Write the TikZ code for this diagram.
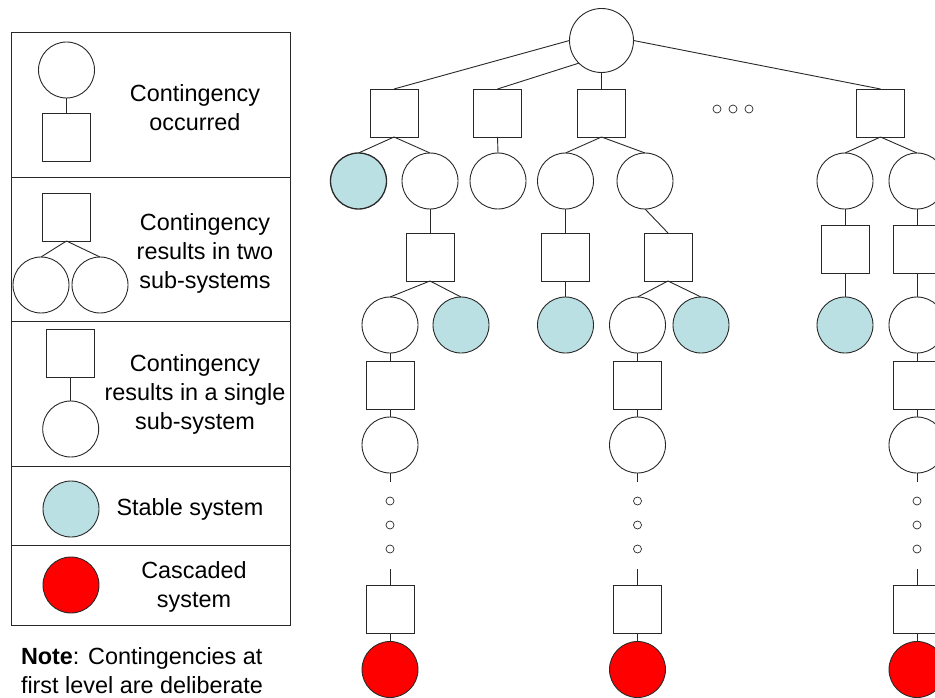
\documentclass[tikz,border=0pt]{standalone}
\usepackage{fontspec}
\setmainfont{Liberation Sans}
\definecolor{stableblue}{RGB}{187,224,227}
\definecolor{inkline}{RGB}{40,40,40}
\begin{document}
\begin{tikzpicture}[x=1pt,y=-1pt,
  every node/.style={inner sep=0pt, outer sep=0pt},
  sys/.style={circle, draw=inkline, line width=0.9pt, fill=white, minimum size=56pt},
  stable/.style={sys, fill=stableblue},
  casc/.style={sys, fill=red},
  rootsys/.style={sys, minimum size=64pt},
  cont/.style={rectangle, draw=inkline, line width=0.9pt, fill=white, minimum size=48pt},
  tinydot/.style={circle, draw=inkline, line width=0.7pt, minimum size=8pt},
  lbl/.style={font=\fontsize{23.4}{29}\selectfont, align=center},
  link/.style={draw=inkline, line width=0.9pt},
  frame/.style={draw=inkline, line width=0.9pt}]
\clip (0,0) rectangle (935,698);
\fill[white] (0,0) rectangle (935,698);

% ---------- legend ----------
\draw[frame] (11,32) rectangle (290,625);
\draw[frame] (11,177) -- (290,177);
\draw[frame] (11,321) -- (290,321);
\draw[frame] (11,466) -- (290,466);
\draw[frame] (11,545) -- (290,545);

% contingency occurred
\node[sys]  (lc1) at (66.5,70) {};
\node[cont] (ls1) at (66.5,137) {};
\draw[link] (lc1.south) -- (ls1.north);
\node[lbl] (lt1) at (195,108) {Contingency\\occurred};

% split into two sub-systems
\node[cont] (ls2) at (66.5,217) {};
\node[sys]  (lc2a) at (41,285) {};
\node[sys]  (lc2b) at (100,285) {};
\draw[link] (ls2.south) -- (lc2a.north);
\draw[link] (ls2.south) -- (lc2b.north);
\node[lbl] (lt2) at (205,253) {Contingency\\results in two\\sub-systems};

% single sub-system
\node[cont] (ls3) at (70.7,353) {};
\node[sys]  (lc3) at (70.7,429) {};
\draw[link] (ls3.south) -- (lc3.north);
\node[lbl] (lt3) at (195,394) {Contingency\\results in a single\\sub-system};

% stable / cascaded
\node[stable] (lc4) at (71,509) {};
\node[lbl] (lt4) at (190,509) {Stable system};
\node[casc] (lc5) at (71,585) {};
\node[lbl] (lt5) at (194,587) {Cascaded\\system};

\node[lbl, align=left, anchor=west] (note) at (21,671) {\textbf{Note}: Contingencies at\\first level are deliberate};

% ---------- tree ----------
\node[rootsys] (root) at (601.5,40.5) {};
\node[cont] (A) at (394,113) {};
\node[cont] (B) at (497.5,113) {};
\node[cont] (C) at (601.5,113) {};
\node[cont] (D) at (880.5,113) {};
\draw[link] (root.west) -- (A.north);
\draw[link] (root.south west) -- (B.north);
\draw[link] (root.south) -- (C.north);
\draw[link] (root.east) -- (D.north);

\node[tinydot] (e1) at (717,109) {};
\node[tinydot] (e2) at (733,109) {};
\node[tinydot] (e3) at (749,109) {};

% second level
\node[stable, line width=1.3pt] (A1) at (358.5,181) {};
\node[sys] (A2) at (430,181) {};
\node[sys] (B1) at (498,181) {};
\node[sys] (C1) at (565.5,181) {};
\node[sys] (C2) at (645,181) {};
\node[sys] (D1) at (845,181) {};
\node[sys] (D2) at (917,181) {};
\draw[link] (A.south) -- (A1.north);
\draw[link] (A.south) -- (A2.north);
\draw[link] (B.south) -- (B1.north);
\draw[link] (C.south) -- (C1.north);
\draw[link] (C.south) -- (C2.north);
\draw[link] (D.south) -- (D1.north);
\draw[link] (D.south) -- (D2.north);

% third level
\node[cont] (A2s) at (430,257) {};
\node[cont] (C1s) at (565.5,257) {};
\node[cont] (C2s) at (668,257) {};
\node[cont] (D1s) at (845,249) {};
\node[cont] (D2s) at (917,249) {};
\draw[link] (A2.south) -- (A2s.north);
\draw[link] (C1.south) -- (C1s.north);
\draw[link] (C2.south) -- (C2s.north);
\draw[link] (D1.south) -- (D1s.north);
\draw[link] (D2.south) -- (D2s.north);

% fourth level
\node[sys] (A2a) at (390,325) {};
\node[stable] (A2b) at (461,325) {};
\node[stable] (C1a) at (565.5,325) {};
\node[sys] (C2a) at (637.5,325) {};
\node[stable] (C2b) at (701,325) {};
\node[stable] (D1a) at (845,325) {};
\node[sys] (D2a) at (917,325) {};
\draw[link] (A2s.south) -- (A2a.north);
\draw[link] (A2s.south) -- (A2b.north);
\draw[link] (C1s.south) -- (C1a.north);
\draw[link] (C2s.south) -- (C2a.north);
\draw[link] (C2s.south) -- (C2b.north);
\draw[link] (D1s.south) -- (D1a.north);
\draw[link] (D2s.south) -- (D2a.north);

% cascading chains down to the failed system
\foreach \x/\n/\top in {390/p/A2a, 637.5/q/C2a, 917/r/D2a} {
  \node[cont] (\n s1) at (\x,385) {};
  \node[sys]  (\n c1) at (\x,445) {};
  \coordinate (\n t1) at (\x,482);
  \node[tinydot] (\n d1) at (\x,501) {};
  \node[tinydot] (\n d2) at (\x,525) {};
  \node[tinydot] (\n d3) at (\x,549) {};
  \coordinate (\n t2) at (\x,569);
  \node[cont] (\n s2) at (\x,609) {};
  \node[casc] (\n c2) at (\x,669.5) {};
  \draw[link] (\top.south) -- (\n s1.north);
  \draw[link] (\n s1.south) -- (\n c1.north);
  \draw[link] (\n c1.south) -- (\n t1);
  \draw[link] (\n t2) -- (\n s2.north);
  \draw[link] (\n s2.south) -- (\n c2.north);
}
\end{tikzpicture}
\end{document}
